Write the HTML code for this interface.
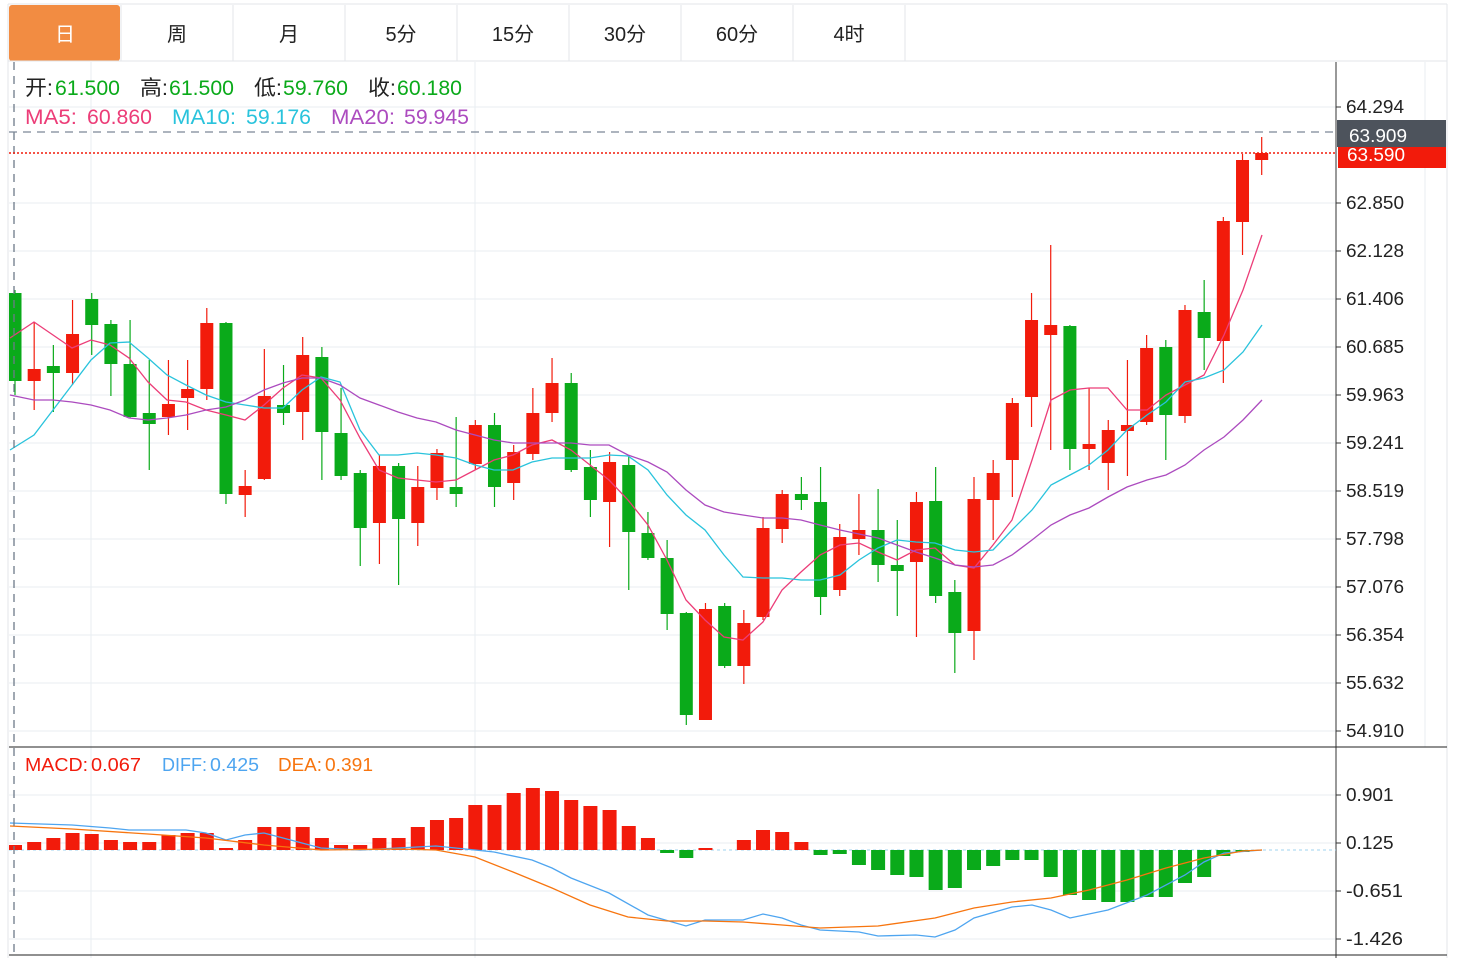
<!DOCTYPE html>
<html><head><meta charset="utf-8"><style>
body{margin:0;background:#fff;width:1462px;height:960px;overflow:hidden;font-family:"Liberation Sans","Noto Sans CJK SC",sans-serif}
</style></head><body>
<svg id="s" width="1462" height="960" xmlns="http://www.w3.org/2000/svg" font-family="Liberation Sans, Noto Sans CJK SC, sans-serif"></svg>
<script>
var s=document.getElementById('s'),h='';
function L(x1,y1,x2,y2,c,w,d){h+='<line x1="'+x1+'" y1="'+y1+'" x2="'+x2+'" y2="'+y2+'" stroke="'+c+'" stroke-width="'+(w||1)+'"'+(d?' stroke-dasharray="'+d+'"':'')+'/>';}
function R(x,y,w,hh,c){h+='<rect x="'+x+'" y="'+y+'" width="'+w+'" height="'+hh+'" fill="'+c+'"/>';}
function T(x,y,t,c,sz,a,tl){h+='<text x="'+x+'" y="'+y+'" fill="'+c+'" font-size="'+sz+'"'+(a?' text-anchor="'+a+'"':'')+(tl?' textLength="'+tl+'" lengthAdjust="spacingAndGlyphs"':'')+'>'+t+'</text>';}
function P(pts,c,w){h+='<polyline fill="none" stroke="'+c+'" stroke-width="'+(w||1.3)+'" points="'+pts.map(p=>p.join(',')).join(' ')+'"/>';}
R(8,4,1439,954,'#fff');L(8,4,1447,4,'#e3e6ea');L(1447,4,1447,958,'#e3e6ea');L(8,4,8,958,'#e3e6ea');
var tabs=['日','周','月','5分','15分','30分','60分','4时'];
for(var i=0;i<8;i++){var x=9+i*112;if(i==0){h+='<rect x="9" y="5" width="111" height="56" rx="3" fill="#f28c42"/>';}L(x+112,5,x+112,61,'#e3e6ea');T(x+56,41,tabs[i],i==0?'#fff':'#222',20,'middle');}
L(8,61,1447,61,'#e3e6ea');
var pt=[[107,'64.294'],[203,'62.850'],[251,'62.128'],[299,'61.406'],[347,'60.685'],[395,'59.963'],[443,'59.241'],[491,'58.519'],[539,'57.798'],[587,'57.076'],[635,'56.354'],[683,'55.632'],[731,'54.910']];
pt.forEach(p=>{L(9,p[0],1336,p[0],'#e8edf2');L(1336,p[0],1341,p[0],'#333');T(1346,p[0]+6,p[1],'#222',18,null,58);});
var mt=[[795,'0.901'],[843,'0.125'],[891,'-0.651'],[939,'-1.426']];
mt.forEach(p=>{L(9,p[0],1336,p[0],'#e8edf2');L(1336,p[0],1341,p[0],'#333');T(1346,p[0]+6,p[1],'#222',18,null,p[1].length*9.5);});
[91,475].forEach(x=>L(x,62,x,958,'#e8edf2'));L(1425,62,1425,747,'#e8edf2');
L(1336,62,1336,958,'#333');L(9,747,1447,747,'#222');L(9,955,1447,955,'#222');
var C=[[0,293,381,290,395],[1,369,381,322,410],[0,366,373,345,412],[1,334,373,300,385],[0,299,325,293,355],[0,324,364,320,396],[0,364,417,320,418],[0,413,424,360,470],[1,404,417,360,435],[1,389,398,360,430],[1,323,389,308,400],[0,323,494,322,504],[1,486,495,470,517],[1,396,479,349,480],[0,405,413,365,425],[1,355,412,337,440],[0,357,432,347,480],[0,433,476,388,480],[0,473,528,470,566],[1,466,523,455,564],[0,466,519,463,585],[1,487,523,466,546],[1,453,488,449,500],[0,487,494,417,507],[1,425,464,420,470],[0,425,487,413,507],[1,452,483,445,500],[1,413,454,388,460],[1,383,413,358,422],[0,383,470,373,472],[0,467,500,450,517],[1,462,502,452,547],[0,465,532,455,590],[0,533,558,512,560],[0,558,614,540,630],[0,613,715,612,725],[1,609,720,603,720],[0,606,666,603,668],[1,623,666,610,684],[1,528,617,517,620],[1,494,529,490,543],[0,494,500,477,510],[0,502,597,467,615],[1,537,590,524,596],[1,530,539,494,555],[0,530,565,489,582],[0,565,571,520,616],[1,502,562,492,637],[0,501,596,467,603],[0,592,633,580,673],[1,499,631,477,660],[1,473,500,460,540],[1,403,460,398,497],[1,320,397,293,427],[1,325,335,245,450],[0,326,449,325,470],[1,444,449,388,470],[1,430,463,420,490],[1,425,431,360,476],[1,348,422,335,425],[0,347,415,340,460],[1,310,416,305,423],[0,312,338,280,370],[1,221,341,217,383],[1,160,222,154,255],[1,153,160,137,175]];
var X=i=>15+i*19.18;
h+='<clipPath id="cp"><rect x="9" y="62" width="1327" height="896"/></clipPath><g clip-path="url(#cp)">';
C.forEach((c,i)=>{var x=X(i),col=c[0]?'#f21b0b':'#0aaa1a';L(x,c[3],x,c[4],col,1.2);R(x-6.5,c[1],13,Math.max(c[2]-c[1],2),col);});
P([[10,338],[34,322],[53,335],[72,348],[91,340],[110,345],[129,358],[148,382],[167,400],[186,402],[206,410],[226,415],[245,420],[264,405],[283,388],[302,375],[321,378],[340,400],[360,438],[379,470],[398,478],[417,480],[436,482],[456,480],[475,470],[494,460],[513,455],[532,445],[552,440],[571,450],[590,465],[609,480],[628,500],[648,525],[667,560],[686,600],[705,620],[724,637],[743,640],[763,622],[782,590],[801,572],[820,555],[840,545],[859,543],[878,552],[897,560],[916,550],[935,548],[955,565],[974,568],[993,545],[1012,520],[1032,460],[1051,400],[1070,390],[1089,388],[1108,388],[1127,410],[1147,410],[1166,395],[1185,385],[1204,375],[1224,335],[1243,290],[1262,235]],'#ec3d78');
P([[10,450],[34,435],[53,410],[72,385],[91,360],[110,343],[129,342],[148,358],[167,375],[186,385],[206,395],[226,402],[245,405],[264,408],[283,408],[302,390],[321,377],[340,382],[360,430],[379,455],[398,455],[417,453],[436,455],[456,458],[475,465],[494,470],[513,470],[532,462],[552,458],[571,458],[590,458],[609,455],[628,456],[648,470],[667,495],[686,515],[705,530],[724,555],[743,577],[763,578],[782,578],[801,580],[820,580],[840,575],[859,560],[878,548],[897,540],[916,542],[935,543],[955,550],[974,552],[993,550],[1012,530],[1032,510],[1051,485],[1070,475],[1089,465],[1108,450],[1127,430],[1147,415],[1166,402],[1185,382],[1204,378],[1224,370],[1243,352],[1262,325]],'#29c3dc');
P([[10,395],[34,400],[53,400],[72,402],[91,405],[110,410],[129,418],[148,420],[167,418],[186,415],[206,410],[226,407],[245,400],[264,390],[283,383],[302,378],[321,378],[340,385],[360,398],[379,405],[398,412],[417,418],[436,422],[456,430],[475,435],[494,440],[513,443],[532,443],[552,443],[571,443],[590,445],[609,445],[628,455],[648,462],[667,472],[686,490],[705,505],[724,512],[743,515],[763,518],[782,518],[801,520],[820,525],[840,530],[859,534],[878,538],[897,545],[916,552],[935,558],[955,565],[974,567],[993,565],[1012,555],[1032,540],[1051,525],[1070,515],[1089,508],[1108,497],[1127,487],[1147,480],[1166,475],[1185,465],[1204,450],[1224,437],[1243,420],[1262,400]],'#ac4bbf');
L(9,850,1336,850,'#9fd3ef',1,'3,3');
var M=[845,842,838,833,834,840,842,842,835,833,833,848,840,827,827,827,838,845,845,838,838,827,820,818,805,805,793,788,791,800,806,810,826,838,853,858,848,850,840,830,832,842,855,854,865,870,875,877,890,888,870,866,860,860,877,895,900,902,902,897,897,883,877,856,852,850];
M.forEach((m,i)=>{var x=X(i);if(m<850)R(x-7,m,14,850-m,'#f21b0b');else if(m>850)R(x-7,850,14,m-850,'#0aaa1a');});
P([[10,823],[72,825],[110,828],[129,830],[148,830],[186,830],[206,833],[226,840],[245,835],[264,833],[283,838],[302,843],[321,848],[360,850],[398,848],[436,846],[475,850],[494,852],[532,860],[552,868],[571,878],[609,893],[648,915],[686,926],[705,920],[743,920],[763,914],[782,918],[801,925],[820,930],[859,932],[878,936],[916,935],[935,937],[955,930],[974,918],[1012,907],[1032,905],[1051,910],[1070,918],[1108,910],[1147,895],[1185,875],[1204,862],[1224,853],[1262,850]],'#4ea5f0');
P([[10,826],[72,829],[148,834],[206,838],[264,845],[321,850],[398,849],[436,850],[475,857],[513,872],[552,888],[590,905],[628,917],[667,921],[705,921],[743,922],[782,925],[820,928],[878,926],[935,918],[974,908],[1012,902],[1051,898],[1089,890],[1127,880],[1166,868],[1204,858],[1243,851],[1262,850]],'#f7750f');
h+='</g>';
L(14,62,14,958,'#6d7a88',1.3,'8,6');L(9,132,1336,132,'#7c8896',1.3,'8,6');L(9,153,1336,153,'#f21b0b',1.5,'2,2');
R(1338,146,108,22,'#f21b0b');T(1347,161,'63.590','#fff',18,null,58);
R(1337,120,109,27,'#4d535c');T(1349,142,'63.909','#fff',18,null,58);
// legends with explicit positions
[['开:',25,'#222',28],['61.500',55,'#0aaa1a',65],['高:',140,'#222',28],['61.500',169,'#0aaa1a',65],['低:',254,'#222',28],['59.760',283,'#0aaa1a',65],['收:',368,'#222',28],['60.180',397,'#0aaa1a',65]].forEach(a=>T(a[1],95,a[0],a[2],21,null,a[3]));
[['MA5:',25,'#ec3d78',52],['60.860',87,'#ec3d78',65],['MA10:',172,'#29c3dc',64],['59.176',246,'#29c3dc',65],['MA20:',331,'#ac4bbf',64],['59.945',404,'#ac4bbf',65]].forEach(a=>T(a[1],124,a[0],a[2],21,null,a[3]));
[['MACD:',25,'#f21b0b',63],['0.067',91,'#f21b0b',50],['DIFF:',162,'#4ea5f0',45],['0.425',210,'#4ea5f0',49],['DEA:',278,'#f7750f',44],['0.391',325,'#f7750f',48]].forEach(a=>T(a[1],771,a[0],a[2],18,null,a[3]));
s.innerHTML=h;
</script>
</body></html>
